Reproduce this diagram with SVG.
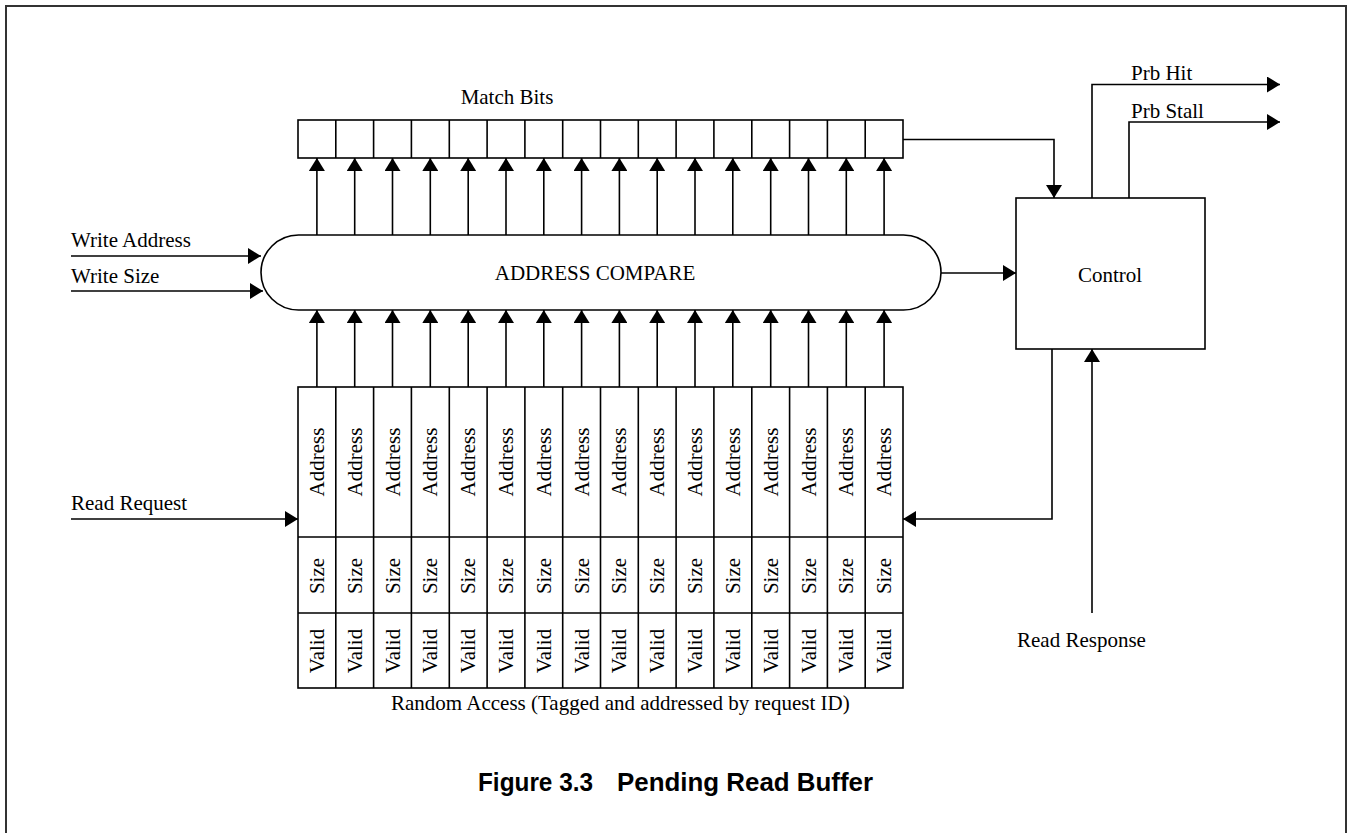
<svg xmlns="http://www.w3.org/2000/svg" width="1348" height="833" viewBox="0 0 1348 833">
<defs>
<marker id="ah" markerUnits="userSpaceOnUse" markerWidth="13" markerHeight="16" refX="13" refY="8" orient="auto" viewBox="0 0 13 16">
<path d="M0,0 L13,8 L0,16 z" fill="#000"/>
</marker>
<style>
.t{font-family:"Liberation Serif","Times New Roman",serif;font-size:21px;fill:#000}
.ln{stroke:#000;stroke-width:1.6;fill:none}
.ar{stroke:#000;stroke-width:1.6;fill:none;marker-end:url(#ah)}
.box{stroke:#000;stroke-width:1.6;fill:#fff}
.cap{font-family:"Liberation Sans",Arial,sans-serif;font-weight:bold;font-size:25px;fill:#000}
</style>
</defs>
<rect x="0" y="0" width="1348" height="833" fill="#fff"/>
<rect x="6" y="6" width="1340" height="840" fill="none" stroke="#333" stroke-width="2"/>

<g id="match-bits">
<text class="t" x="507" y="104" text-anchor="middle">Match Bits</text>
<rect class="box" x="298" y="120" width="605" height="38"/>
<path class="ln" d="M335.8,120V158M373.6,120V158M411.4,120V158M449.3,120V158M487.1,120V158M524.9,120V158M562.7,120V158M600.5,120V158M638.3,120V158M676.1,120V158M713.9,120V158M751.8,120V158M789.6,120V158M827.4,120V158M865.2,120V158"/>
</g>

<g id="address-compare">
<rect class="box" x="261" y="235" width="680" height="75" rx="37.5" ry="37.5"/>
<text class="t" x="595" y="280" text-anchor="middle">ADDRESS COMPARE</text>
</g>

<g id="control">
<rect class="box" x="1016" y="198" width="189" height="151"/>
<text class="t" x="1110" y="282" text-anchor="middle">Control</text>
</g>

<g id="buffer">
<rect class="box" x="298" y="387" width="605" height="301"/>
<path class="ln" d="M298,537H903M298,613H903"/>
<path class="ln" d="M335.8,387V688M373.6,387V688M411.4,387V688M449.3,387V688M487.1,387V688M524.9,387V688M562.7,387V688M600.5,387V688M638.3,387V688M676.1,387V688M713.9,387V688M751.8,387V688M789.6,387V688M827.4,387V688M865.2,387V688"/>
<g class="t" text-anchor="middle">
<text transform="translate(323.9,462) rotate(-90)">Address</text>
<text transform="translate(361.7,462) rotate(-90)">Address</text>
<text transform="translate(399.5,462) rotate(-90)">Address</text>
<text transform="translate(437.4,462) rotate(-90)">Address</text>
<text transform="translate(475.2,462) rotate(-90)">Address</text>
<text transform="translate(513.0,462) rotate(-90)">Address</text>
<text transform="translate(550.8,462) rotate(-90)">Address</text>
<text transform="translate(588.6,462) rotate(-90)">Address</text>
<text transform="translate(626.4,462) rotate(-90)">Address</text>
<text transform="translate(664.2,462) rotate(-90)">Address</text>
<text transform="translate(702.1,462) rotate(-90)">Address</text>
<text transform="translate(739.9,462) rotate(-90)">Address</text>
<text transform="translate(777.7,462) rotate(-90)">Address</text>
<text transform="translate(815.5,462) rotate(-90)">Address</text>
<text transform="translate(853.3,462) rotate(-90)">Address</text>
<text transform="translate(891.1,462) rotate(-90)">Address</text>
<text transform="translate(323.9,576) rotate(-90)">Size</text>
<text transform="translate(361.7,576) rotate(-90)">Size</text>
<text transform="translate(399.5,576) rotate(-90)">Size</text>
<text transform="translate(437.4,576) rotate(-90)">Size</text>
<text transform="translate(475.2,576) rotate(-90)">Size</text>
<text transform="translate(513.0,576) rotate(-90)">Size</text>
<text transform="translate(550.8,576) rotate(-90)">Size</text>
<text transform="translate(588.6,576) rotate(-90)">Size</text>
<text transform="translate(626.4,576) rotate(-90)">Size</text>
<text transform="translate(664.2,576) rotate(-90)">Size</text>
<text transform="translate(702.1,576) rotate(-90)">Size</text>
<text transform="translate(739.9,576) rotate(-90)">Size</text>
<text transform="translate(777.7,576) rotate(-90)">Size</text>
<text transform="translate(815.5,576) rotate(-90)">Size</text>
<text transform="translate(853.3,576) rotate(-90)">Size</text>
<text transform="translate(891.1,576) rotate(-90)">Size</text>
<text transform="translate(323.9,651) rotate(-90)">Valid</text>
<text transform="translate(361.7,651) rotate(-90)">Valid</text>
<text transform="translate(399.5,651) rotate(-90)">Valid</text>
<text transform="translate(437.4,651) rotate(-90)">Valid</text>
<text transform="translate(475.2,651) rotate(-90)">Valid</text>
<text transform="translate(513.0,651) rotate(-90)">Valid</text>
<text transform="translate(550.8,651) rotate(-90)">Valid</text>
<text transform="translate(588.6,651) rotate(-90)">Valid</text>
<text transform="translate(626.4,651) rotate(-90)">Valid</text>
<text transform="translate(664.2,651) rotate(-90)">Valid</text>
<text transform="translate(702.1,651) rotate(-90)">Valid</text>
<text transform="translate(739.9,651) rotate(-90)">Valid</text>
<text transform="translate(777.7,651) rotate(-90)">Valid</text>
<text transform="translate(815.5,651) rotate(-90)">Valid</text>
<text transform="translate(853.3,651) rotate(-90)">Valid</text>
<text transform="translate(891.1,651) rotate(-90)">Valid</text>
</g>
<text class="t" x="391" y="710">Random Access (Tagged and addressed by request ID)</text>
</g>

<g id="labels">
<text class="t" x="71" y="247">Write Address</text>
<text class="t" x="71" y="283">Write Size</text>
<text class="t" x="71" y="510">Read Request</text>
<text class="t" x="1131" y="80">Prb Hit</text>
<text class="t" x="1131" y="118">Prb Stall</text>
<text class="t" x="1017" y="647">Read Response</text>
</g>

<g id="connectors">
<path class="ar" d="M316.9,235V158"/>
<path class="ar" d="M354.7,235V158"/>
<path class="ar" d="M392.5,235V158"/>
<path class="ar" d="M430.3,235V158"/>
<path class="ar" d="M468.2,235V158"/>
<path class="ar" d="M506,235V158"/>
<path class="ar" d="M543.8,235V158"/>
<path class="ar" d="M581.6,235V158"/>
<path class="ar" d="M619.4,235V158"/>
<path class="ar" d="M657.2,235V158"/>
<path class="ar" d="M695,235V158"/>
<path class="ar" d="M732.8,235V158"/>
<path class="ar" d="M770.7,235V158"/>
<path class="ar" d="M808.5,235V158"/>
<path class="ar" d="M846.3,235V158"/>
<path class="ar" d="M884.1,235V158"/>
<path class="ar" d="M316.9,387V310"/>
<path class="ar" d="M354.7,387V310"/>
<path class="ar" d="M392.5,387V310"/>
<path class="ar" d="M430.3,387V310"/>
<path class="ar" d="M468.2,387V310"/>
<path class="ar" d="M506,387V310"/>
<path class="ar" d="M543.8,387V310"/>
<path class="ar" d="M581.6,387V310"/>
<path class="ar" d="M619.4,387V310"/>
<path class="ar" d="M657.2,387V310"/>
<path class="ar" d="M695,387V310"/>
<path class="ar" d="M732.8,387V310"/>
<path class="ar" d="M770.7,387V310"/>
<path class="ar" d="M808.5,387V310"/>
<path class="ar" d="M846.3,387V310"/>
<path class="ar" d="M884.1,387V310"/>
<path class="ar" d="M71,256H261"/>
<path class="ar" d="M71,291H263"/>
<path class="ar" d="M71,519H298"/>
<path class="ar" d="M903,139.5H1054V198"/>
<path class="ar" d="M941,273H1016"/>
<path class="ar" d="M1092,198V84.5H1280"/>
<path class="ar" d="M1129,198V122H1280"/>
<path class="ar" d="M1052,349V519H903"/>
<path class="ar" d="M1092,613V349"/>
</g>

<g id="caption">
<text class="cap" y="791"><tspan x="478" textLength="115" lengthAdjust="spacingAndGlyphs">Figure 3.3</tspan><tspan x="617" textLength="256" lengthAdjust="spacingAndGlyphs">Pending Read Buffer</tspan></text>
</g>
</svg>
